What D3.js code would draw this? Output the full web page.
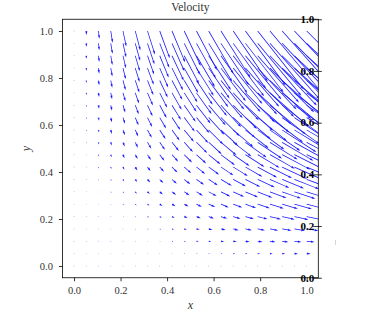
<!DOCTYPE html>
<html>
<head>
<meta charset="utf-8">
<script src="https://cdn.jsdelivr.net/npm/d3@7"></script>
<style>
body { margin: 0; background: #fff; }
svg { display: block; }
.axis text { font-family: 'Liberation Serif', serif; font-size: 10.5px; fill: #333; }
.axis line { stroke: #000; stroke-width: 0.8; }
.raxis text { font-family: 'Liberation Serif', serif; font-size: 11px; font-weight: bold; fill: #000; }
.raxis line { stroke: #000; stroke-width: 0.8; }
</style>
</head>
<body>
<script>
// grid points (20 x 20)
var xGrid = [ 0, .0526, .1053, .1579, .2105, .2632, .3158, .3684, .4211, .4737, .5263, .5789, .6316, .6842, .7368, .7895, .8421, .8947, .9474, 1 ];
var yGrid = [ 0, .0526, .1053, .1579, .2105, .2632, .3158, .3684, .4211, .4737, .5263, .5789, .6316, .6842, .7368, .7895, .8421, .8947, .9474, 1 ];

// horizontal velocity, one row per y
var uRows = [
	[ 0, 0, 0, 0, 0, 0, 0, 0, 0, 0, 0, 0, 0, 0, 0, 0, 0, 0, 0, 0 ],
	[ 0, .000, .001, .001, .002, .004, .005, .007, .009, .012, .015, .018, .021, .025, .029, .033, .037, .042, .047, .053 ],
	[ 0, .000, .001, .003, .005, .007, .010, .014, .019, .024, .029, .035, .042, .049, .057, .066, .075, .084, .094, .105 ],
	[ 0, .000, .002, .004, .007, .011, .016, .021, .028, .035, .044, .053, .063, .074, .086, .098, .112, .126, .142, .158 ],
	[ 0, .001, .002, .005, .009, .015, .021, .029, .037, .047, .058, .071, .084, .099, .114, .131, .149, .169, .189, .211 ],
	[ 0, .001, .003, .007, .012, .018, .026, .036, .047, .059, .073, .088, .105, .123, .143, .164, .187, .211, .236, .263 ],
	[ 0, .001, .003, .008, .014, .022, .031, .043, .056, .071, .087, .106, .126, .148, .171, .197, .224, .253, .283, .316 ],
	[ 0, .001, .004, .009, .016, .026, .037, .050, .065, .083, .102, .123, .147, .172, .200, .230, .261, .295, .331, .368 ],
	[ 0, .001, .005, .010, .019, .029, .042, .057, .075, .094, .117, .141, .168, .197, .229, .262, .299, .337, .378, .421 ],
	[ 0, .001, .005, .012, .021, .033, .047, .064, .084, .106, .131, .159, .189, .222, .257, .295, .336, .379, .425, .474 ],
	[ 0, .001, .006, .013, .023, .036, .052, .071, .093, .118, .146, .176, .210, .246, .286, .328, .373, .421, .472, .526 ],
	[ 0, .002, .006, .014, .026, .040, .058, .079, .103, .130, .160, .194, .231, .271, .314, .361, .411, .463, .520, .579 ],
	[ 0, .002, .007, .016, .028, .044, .063, .086, .112, .142, .175, .212, .252, .296, .343, .394, .448, .506, .567, .632 ],
	[ 0, .002, .008, .017, .030, .047, .068, .093, .121, .154, .190, .229, .273, .320, .371, .426, .485, .548, .614, .684 ],
	[ 0, .002, .008, .018, .033, .051, .073, .100, .131, .165, .204, .247, .294, .345, .400, .459, .523, .590, .661, .737 ],
	[ 0, .002, .009, .020, .035, .055, .079, .107, .140, .177, .219, .265, .315, .370, .429, .492, .560, .632, .709, .789 ],
	[ 0, .002, .009, .021, .037, .058, .084, .114, .149, .189, .233, .282, .336, .394, .457, .525, .597, .674, .756, .842 ],
	[ 0, .002, .010, .022, .040, .062, .089, .121, .159, .201, .248, .300, .357, .419, .486, .558, .634, .716, .803, .895 ],
	[ 0, .003, .010, .024, .042, .066, .094, .129, .168, .213, .262, .318, .378, .444, .514, .590, .672, .758, .850, .947 ],
	[ 0, .003, .011, .025, .044, .069, .100, .136, .177, .224, .277, .335, .399, .468, .543, .623, .709, .801, .898, 1 ]
];

// vertical velocity, one row per y
var vRows = [
	[ 0, 0, 0, 0, 0, 0, 0, 0, 0, 0, 0, 0, 0, 0, 0, 0, 0, 0, 0, 0 ],
	[ 0, 0, 0, 0, -.001, -.001, -.001, -.001, -.001, -.001, -.001, -.002, -.002, -.002, -.002, -.002, -.002, -.002, -.003, -.003 ],
	[ 0, -.001, -.001, -.002, -.002, -.003, -.003, -.004, -.005, -.005, -.006, -.006, -.007, -.008, -.008, -.009, -.009, -.010, -.010, -.011 ],
	[ 0, -.001, -.003, -.004, -.005, -.007, -.008, -.009, -.010, -.012, -.013, -.014, -.016, -.017, -.018, -.020, -.021, -.022, -.024, -.025 ],
	[ 0, -.002, -.005, -.007, -.009, -.012, -.014, -.016, -.019, -.021, -.023, -.026, -.028, -.030, -.033, -.035, -.037, -.040, -.042, -.044 ],
	[ 0, -.004, -.007, -.011, -.015, -.018, -.022, -.026, -.029, -.033, -.036, -.040, -.044, -.047, -.051, -.055, -.058, -.062, -.066, -.069 ],
	[ 0, -.005, -.010, -.016, -.021, -.026, -.031, -.037, -.042, -.047, -.052, -.058, -.063, -.068, -.073, -.079, -.084, -.089, -.094, -.100 ],
	[ 0, -.007, -.014, -.021, -.029, -.036, -.043, -.050, -.057, -.064, -.071, -.079, -.086, -.093, -.100, -.107, -.114, -.121, -.129, -.136 ],
	[ 0, -.009, -.019, -.028, -.037, -.047, -.056, -.065, -.075, -.084, -.093, -.103, -.112, -.121, -.131, -.140, -.149, -.159, -.168, -.177 ],
	[ 0, -.012, -.024, -.035, -.047, -.059, -.071, -.083, -.094, -.106, -.118, -.130, -.142, -.154, -.165, -.177, -.189, -.201, -.213, -.224 ],
	[ 0, -.015, -.029, -.044, -.058, -.073, -.087, -.102, -.117, -.131, -.146, -.160, -.175, -.190, -.204, -.219, -.233, -.248, -.262, -.277 ],
	[ 0, -.018, -.035, -.053, -.071, -.088, -.106, -.123, -.141, -.159, -.176, -.194, -.212, -.229, -.247, -.265, -.282, -.300, -.318, -.335 ],
	[ 0, -.021, -.042, -.063, -.084, -.105, -.126, -.147, -.168, -.189, -.210, -.231, -.252, -.273, -.294, -.315, -.336, -.357, -.378, -.399 ],
	[ 0, -.025, -.049, -.074, -.099, -.123, -.148, -.172, -.197, -.222, -.246, -.271, -.296, -.320, -.345, -.370, -.394, -.419, -.444, -.468 ],
	[ 0, -.029, -.057, -.086, -.114, -.143, -.171, -.200, -.229, -.257, -.286, -.314, -.343, -.371, -.400, -.429, -.457, -.486, -.514, -.543 ],
	[ 0, -.033, -.066, -.098, -.131, -.164, -.197, -.230, -.262, -.295, -.328, -.361, -.394, -.426, -.459, -.492, -.525, -.558, -.590, -.623 ],
	[ 0, -.037, -.075, -.112, -.149, -.187, -.224, -.261, -.299, -.336, -.373, -.411, -.448, -.485, -.523, -.560, -.597, -.634, -.672, -.709 ],
	[ 0, -.042, -.084, -.126, -.169, -.211, -.253, -.295, -.337, -.379, -.421, -.463, -.506, -.548, -.590, -.632, -.674, -.716, -.758, -.801 ],
	[ 0, -.047, -.094, -.142, -.189, -.236, -.283, -.331, -.378, -.425, -.472, -.520, -.567, -.614, -.661, -.709, -.756, -.803, -.850, -.898 ],
	[ 0, -.053, -.105, -.158, -.211, -.263, -.316, -.368, -.421, -.474, -.526, -.579, -.632, -.684, -.737, -.789, -.842, -.895, -.947, -1 ]
];

var xTicks = [ 0, 0.2, 0.4, 0.6, 0.8, 1.0 ];
var yTicks = [ 0, 0.2, 0.4, 0.6, 0.8, 1.0 ];
var rightTicks = [ 0, 0.2, 0.4, 0.6, 0.8, 1.0 ];

var width = 378;
var height = 313;

var frame = { left: 62.4, right: 318.3, top: 19.25, bottom: 277.75 };

var els = {};

els.svg = d3.select( 'body' ).append( 'svg' )
	.attr( 'width', width )
	.attr( 'height', height );

var scales = {};

scales.x = d3.scaleLinear().domain( [ -0.05, 1.05 ] ).range( [ frame.left, frame.right ] );
scales.y = d3.scaleLinear().domain( [ -0.05, 1.05 ] ).range( [ frame.bottom, frame.top ] );
scales.yRight = d3.scaleLinear().domain( [ 0, 1 ] ).range( [ frame.bottom, frame.top ] );
// velocity -> arrow length in pixels
scales.len = d3.scaleLinear().domain( [ 0, 1 ] ).range( [ 0, 74 ] );

els.svg.append( 'defs' ).append( 'clipPath' ).attr( 'id', 'plot-clip' )
	.append( 'rect' )
	.attr( 'x', frame.left )
	.attr( 'y', frame.top )
	.attr( 'width', frame.right - frame.left )
	.attr( 'height', frame.bottom - frame.top );

els.arrows = els.svg.append( 'g' ).attr( 'id', 'arrows' )
	.attr( 'clip-path', 'url(#plot-clip)' );

// quiver-like arrow shape, tail at origin, pointing along +x
var shaftW = 0.75;
var arrowPath = function ( len ) {
	var hl = 5 * shaftW, ha = 4.5 * shaftW, hw = 1.5 * shaftW, sw = shaftW / 2;
	var k = 1;
	if ( len < hl ) {
		k = len / hl;
		len = hl;
	}
	var pts = [ [ 0, -sw ], [ len - ha, -sw ], [ len - hl, -hw ], [ len, 0 ], [ len - hl, hw ], [ len - ha, sw ], [ 0, sw ] ];
	return 'M' + pts.map( function ( p ) {
		return ( p[0] * k ).toFixed( 2 ) + ',' + ( p[1] * k ).toFixed( 2 );
	} ).join( 'L' ) + 'Z';
};

var field = [];
yGrid.forEach( function ( y, j ) {
	xGrid.forEach( function ( x, i ) {
		field.push( { x: x, y: y, u: uRows[j][i], v: vRows[j][i] } );
	} );
} );

field.forEach( function ( d ) {
	var dx = scales.len( d.u );
	var dy = -scales.len( d.v );
	var len = Math.sqrt( dx * dx + dy * dy );
	var px = scales.x( d.x );
	var py = scales.y( d.y );
	if ( len < shaftW ) {
		els.arrows.append( 'circle' )
			.attr( 'cx', px )
			.attr( 'cy', py )
			.attr( 'r', 0.45 )
			.style( 'fill', '#0000ff' )
			.style( 'opacity', 0.45 );
	} else {
		var ang = Math.atan2( dy, dx ) * 180 / Math.PI;
		els.arrows.append( 'path' )
			.attr( 'd', arrowPath( len ) )
			.attr( 'transform', 'translate(' + px + ',' + py + ') rotate(' + ang + ')' )
			.style( 'fill', '#1a1aff' );
	}
} );

// frame
els.svg.append( 'rect' )
	.attr( 'x', frame.left )
	.attr( 'y', frame.top )
	.attr( 'width', frame.right - frame.left )
	.attr( 'height', frame.bottom - frame.top )
	.style( 'fill', 'none' )
	.style( 'stroke', '#000' )
	.style( 'stroke-width', 0.8 );

var fmt = d3.format( '.1f' );

els.xAxis = els.svg.append( 'g' ).classed( 'axis', true )
	.attr( 'transform', 'translate(0,' + frame.bottom + ')' )
	.call( d3.axisBottom( scales.x ).tickValues( xTicks ).tickFormat( fmt ).tickSize( 3.5 ).tickPadding( 5 ) );
els.xAxis.select( '.domain' ).remove();

els.yAxis = els.svg.append( 'g' ).classed( 'axis', true )
	.attr( 'transform', 'translate(' + frame.left + ',0)' )
	.call( d3.axisLeft( scales.y ).tickValues( yTicks ).tickFormat( fmt ).tickSize( 3.5 ).tickPadding( 6 ) );
els.yAxis.select( '.domain' ).remove();

els.rAxis = els.svg.append( 'g' ).classed( 'raxis', true )
	.attr( 'transform', 'translate(' + frame.right + ',0)' )
	.call( d3.axisRight( scales.yRight ).tickValues( rightTicks ).tickFormat( fmt ).tickSize( 3.5 ) );
els.rAxis.select( '.domain' ).remove();
els.rAxis.selectAll( '.tick line' ).attr( 'x1', -5 ).attr( 'x2', 3.5 );
els.rAxis.selectAll( '.tick text' ).attr( 'x', -4 ).attr( 'dy', '0.3em' ).attr( 'text-anchor', 'end' );

// title and labels
els.svg.append( 'text' )
	.attr( 'x', ( frame.left + frame.right ) / 2 )
	.attr( 'y', 11 )
	.attr( 'text-anchor', 'middle' )
	.style( 'font-family', "'Liberation Serif', serif" )
	.style( 'font-size', '11.5px' )
	.style( 'fill', '#333' )
	.text( 'Velocity' );

els.svg.append( 'text' )
	.attr( 'x', ( frame.left + frame.right ) / 2 )
	.attr( 'y', 309 )
	.attr( 'text-anchor', 'middle' )
	.style( 'font-family', "'Liberation Serif', serif" )
	.style( 'font-style', 'italic' )
	.style( 'font-size', '12px' )
	.style( 'fill', '#333' )
	.text( 'x' );

els.svg.append( 'text' )
	.attr( 'transform', 'translate(30,' + ( ( frame.top + frame.bottom ) / 2 ) + ') rotate(-90)' )
	.attr( 'text-anchor', 'middle' )
	.style( 'font-family', "'Liberation Serif', serif" )
	.style( 'font-style', 'italic' )
	.style( 'font-size', '12px' )
	.style( 'fill', '#333' )
	.text( 'y' );

// faint stray mark right of the plot
els.svg.append( 'line' )
	.attr( 'x1', 335.5 ).attr( 'x2', 335.5 )
	.attr( 'y1', 240 ).attr( 'y2', 245 )
	.style( 'stroke', '#ccc' )
	.style( 'stroke-width', 0.8 );
</script>
</body>
</html>
